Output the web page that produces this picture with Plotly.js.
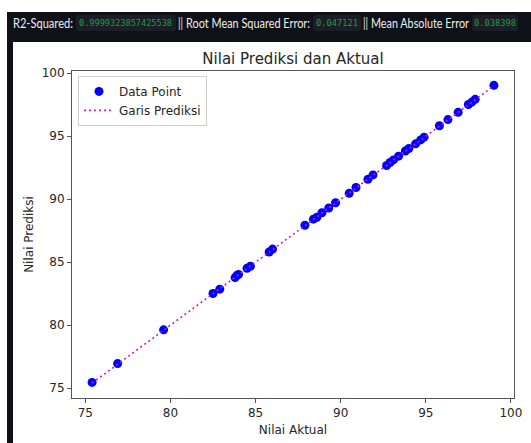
<!DOCTYPE html>
<html>
<head>
<meta charset="utf-8">
<script src="https://cdn.plot.ly/plotly-3.0.1.min.js"></script>
<style>
  html, body { margin: 0; padding: 0; background: #ffffff; width: 531px; height: 443px; overflow: hidden; }
  #bar { position: absolute; left: 7px; top: 12px; width: 524px; height: 30px; background: #0e1117; }
  #strip { position: absolute; left: 7px; top: 12px; width: 6px; height: 431px; background: #0e1117; }
  .seg { position: absolute; white-space: nowrap; transform-origin: left center; }
  .txt { font-family: Lato, "Noto Sans", sans-serif; font-size: 14px; color: #ececec; top: 14px; line-height: 18px; }
  .box { background: #1b1e26; top: 15px; height: 16px; border-radius: 3px; }
  .code { font-family: "DejaVu Sans Mono", monospace; font-size: 9px; color: #1f9c45; top: 17px; line-height: 12px; }
  #chart { position: absolute; left: 13px; top: 42px; width: 518px; height: 401px; }
</style>
</head>
<body>
<div id="bar"></div>
<div id="strip"></div>
<div id="header"></div>
<div id="chart"></div>
<script>
// ---- data ----
const actual = [75.4, 76.9, 79.6, 82.5, 82.9, 83.8, 83.9, 84.0, 84.5, 84.7, 85.8, 86.0,
  87.9, 88.4, 88.6, 88.9, 89.3, 89.7, 90.5, 90.9, 91.6, 91.9, 92.7, 92.9, 93.1, 93.4,
  93.8, 94.0, 94.4, 94.7, 94.9, 95.8, 96.3, 96.9, 97.5, 97.7, 97.9, 99.0];
const predicted = [75.46, 76.95, 79.63, 82.52, 82.86, 83.78, 83.94, 84.03, 84.52, 84.68, 85.81, 86.04,
  87.93, 88.42, 88.57, 88.93, 89.30, 89.72, 90.47, 90.93, 91.58, 91.93, 92.68, 92.92, 93.12, 93.42,
  93.83, 94.02, 94.40, 94.71, 94.93, 95.83, 96.32, 96.90, 97.52, 97.71, 97.93, 99.04];
const metricLabels = ["R2-Squared:", "Root Mean Squared Error:", "Mean Absolute Error"];
const metricValues = ["0.9999323857425538", "0.047121", "0.038398"];
const xTicks = [75, 80, 85, 90, 95, 100];
const yTicks = [75, 80, 85, 90, 95, 100];

// ---- header (Streamlit-style metrics line) ----
const header = document.getElementById('header');
// [type, text, left, width]
const segs = [
  ['txt', metricLabels[0], 13, 60],
  ['box', '', 76, 100], ['code', metricValues[0], 79, 93],
  ['txt', '||', 178, 5],
  ['txt', metricLabels[1], 186, 124],
  ['box', '', 313, 48], ['code', metricValues[1], 316, 42],
  ['txt', '||', 363, 5],
  ['txt', metricLabels[2], 371, 98],
  ['box', '', 472, 46], ['code', metricValues[2], 474, 42]
];
segs.forEach(s => {
  const d = document.createElement('div');
  d.className = 'seg ' + s[0];
  d.style.left = s[2] + 'px';
  if (s[0] === 'box') { d.style.width = s[3] + 'px'; }
  else { d.textContent = s[1]; }
  header.appendChild(d);
  if (s[0] !== 'box') {
    const w = d.getBoundingClientRect().width;
    if (w > 0) d.style.transform = 'scaleX(' + (s[3] / w) + ')';
  }
});

// ---- chart ----
const lo = Math.min(...actual), hi = Math.max(...actual);
const traces = [
  {
    x: actual, y: predicted, type: 'scatter', mode: 'markers', name: 'Data Point',
    marker: { color: '#0000ff', size: 9, line: { width: 0 } }
  },
  {
    x: [lo, hi], y: [lo, hi], type: 'scatter', mode: 'lines', name: 'Garis Prediksi',
    line: { color: '#c71ccf', width: 1.6, dash: '2px,3px' }
  }
];
const axisCommon = {
  showgrid: false, zeroline: false, showline: true, mirror: true,
  linecolor: '#555555', linewidth: 1,
  ticks: 'outside', ticklen: 4, tickwidth: 1, tickcolor: '#555555',
  tickfont: { family: 'DejaVu Sans', size: 12, color: '#262626' },
  tickmode: 'array'
};
const layout = {
  width: 518, height: 401,
  margin: { l: 59, r: 17, t: 29, b: 45, pad: 0 },
  paper_bgcolor: '#ffffff', plot_bgcolor: '#ffffff',
  font: { family: 'DejaVu Sans', color: '#262626' },
  title: {
    text: 'Nilai Prediksi dan Aktual',
    font: { family: 'DejaVu Sans', size: 15, color: '#262626' },
    xref: 'paper', x: 0.5, xanchor: 'center',
    yref: 'container', y: 0.959, yanchor: 'middle'
  },
  xaxis: Object.assign({}, axisCommon, {
    range: [74.22, 100.18], tickvals: xTicks, ticktext: xTicks.map(String),
    title: { text: 'Nilai Aktual', font: { family: 'DejaVu Sans', size: 12, color: '#262626' }, standoff: 6 }
  }),
  yaxis: Object.assign({}, axisCommon, {
    range: [74.22, 100.18], tickvals: yTicks, ticktext: yTicks.map(String),
    title: { text: 'Nilai Prediksi', font: { family: 'DejaVu Sans', size: 12, color: '#262626' }, standoff: 5 }
  }),
  showlegend: true,
  legend: {
    x: 0.0136, y: 0.985, xanchor: 'left', yanchor: 'top',
    bgcolor: 'rgba(255,255,255,0.9)', bordercolor: '#d0d0d0', borderwidth: 1,
    font: { family: 'DejaVu Sans', size: 12, color: '#262626' },
    tracegroupgap: 0
  }
};
Plotly.newPlot('chart', traces, layout, { displayModeBar: false, staticPlot: true });
</script>
</body>
</html>
